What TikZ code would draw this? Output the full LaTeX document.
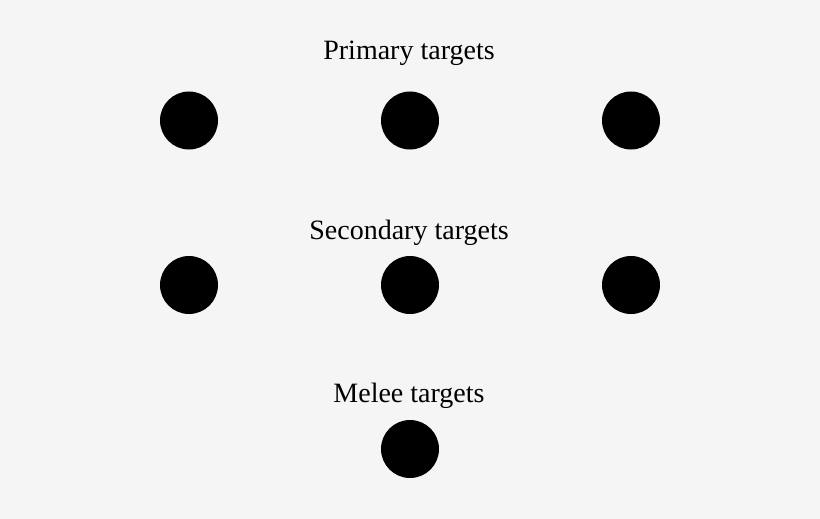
\documentclass[tikz,border=0pt]{standalone}
\usepackage{fontspec}
\setmainfont{Liberation Serif}
\usepackage{xcolor}
\definecolor{backdrop}{HTML}{F5F5F5}
\usetikzlibrary{positioning}
\tikzset{target/.style={circle, fill=black, minimum size=58pt, inner sep=0pt},
	rowlabel/.style={anchor=base, font=\fontsize{28}{32}\selectfont, inner sep=0pt}}

\begin{document}
\begin{tikzpicture}[x=1pt, y=-1pt]
	\fill[backdrop] (0,0) rectangle (820,519);
	\useasboundingbox (0,0) rectangle (820,519);
	
	% Primary
	\node[rowlabel] (primary) at (409,60) {Primary targets};
	\node[target] (p1) at (189,120.5) {};
	\node[target] (p2) at (410,120.5) {};
	\node[target] (p3) at (631,120.5) {};
	
	% Secondary
	\node[rowlabel] (secondary) at (409,239.5) {Secondary targets};
	\node[target] (s1) at (189,285) {};
	\node[target] (s2) at (410,285) {};
	\node[target] (s3) at (631,285) {};
	
	% Melee
	\node[rowlabel] (melee) at (409,402.5) {Melee targets};
	\node[target] (m1) at (410,449) {};
\end{tikzpicture}
\end{document}
